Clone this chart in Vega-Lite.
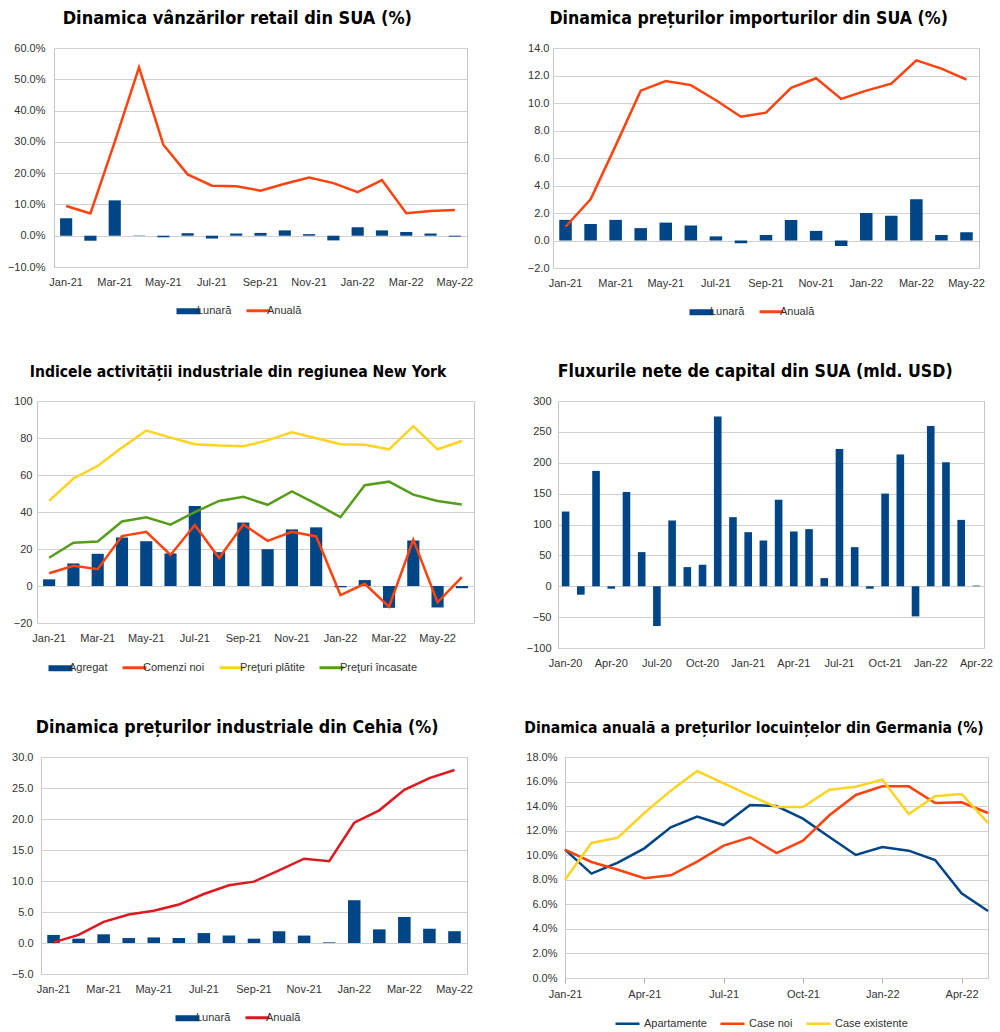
{
  "$schema": "https://vega.github.io/schema/vega-lite/v6.json",
  "background": "white",
  "padding": {"top": 9, "left": 0, "right": 0, "bottom": 0},
  "config": {
    "font": "Liberation Sans",
    "view": {"stroke": "#c6c6c6", "strokeWidth": 1},
    "axis": {"labelFont": "Liberation Sans", "labelFontSize": 11, "labelColor": "#333333", "gridColor": "#d0d0d0", "domain": false, "ticks": false, "tickSize": 0, "title": null},
    "axisX": {"labelAngle": 0, "grid": false, "labelPadding": 9},
    "title": {"font": "DejaVu Sans Condensed, Liberation Sans Narrow, sans-serif", "fontWeight": "bold", "fontSize": 17.7, "color": "#000000", "anchor": "middle", "offset": 14, "frame": "bounds"},
    "legend": {"labelFont": "Liberation Sans", "labelFontSize": 11, "labelColor": "#333333", "title": null, "orient": "none", "direction": "horizontal", "symbolSize": 576, "labelOffset": 3, "columnPadding": 8},
    "line": {"strokeWidth": 2.5},
    "bar": {"color": "#004586"}
  },
  "resolve": {"scale": {"color": "independent"}, "legend": {"color": "independent"}},
  "spacing": 43,
  "vconcat": [
    {
      "spacing": 38,
      "resolve": {"scale": {"color": "independent"}, "legend": {"color": "independent"}},
      "hconcat": [
        {
          "spacing": 0,
          "resolve": {"scale": {"color": "independent"}, "legend": {"color": "independent"}},
          "hconcat": [
            {"width": 1, "height": 1, "view": {"stroke": null}, "data": {"values": []}, "mark": {"type": "point", "opacity": 0}},
            {
              "title": {"text": "Dinamica vânzărilor retail din SUA (%)", "fontSize": 18},
              "width": 413, "height": 219,
              "data": {"values": [
                {"luna": "Jan-21", "lunara": 5.6, "anuala": 9.5},
                {"luna": "Feb-21", "lunara": -1.6, "anuala": 7.1},
                {"luna": "Mar-21", "lunara": 11.3, "anuala": 30.0},
                {"luna": "Apr-21", "lunara": 0.1, "anuala": 53.8},
                {"luna": "May-21", "lunara": -0.5, "anuala": 29.1},
                {"luna": "Jun-21", "lunara": 0.8, "anuala": 19.6},
                {"luna": "Jul-21", "lunara": -0.9, "anuala": 16.0},
                {"luna": "Aug-21", "lunara": 0.7, "anuala": 15.8},
                {"luna": "Sep-21", "lunara": 0.9, "anuala": 14.4},
                {"luna": "Oct-21", "lunara": 1.7, "anuala": 16.6},
                {"luna": "Nov-21", "lunara": 0.5, "anuala": 18.6},
                {"luna": "Dec-21", "lunara": -1.5, "anuala": 16.8},
                {"luna": "Jan-22", "lunara": 2.7, "anuala": 13.9},
                {"luna": "Feb-22", "lunara": 1.7, "anuala": 17.8},
                {"luna": "Mar-22", "lunara": 1.2, "anuala": 7.2},
                {"luna": "Apr-22", "lunara": 0.7, "anuala": 7.9},
                {"luna": "May-22", "lunara": -0.3, "anuala": 8.2}
              ]},
              "encoding": {
                "x": {"field": "luna", "type": "ordinal", "sort": null, "scale": {"paddingInner": 0.5, "paddingOuter": 0.25},
                      "axis": {"values": ["Jan-21", "Mar-21", "May-21", "Jul-21", "Sep-21", "Nov-21", "Jan-22", "Mar-22", "May-22"]}}
              },
              "layer": [
                {"mark": {"type": "bar"},
                 "encoding": {
                   "y": {"field": "lunara", "type": "quantitative", "scale": {"domain": [-10, 60], "nice": false, "zero": false},
                         "axis": {"values": [-10, 0, 10, 20, 30, 40, 50, 60], "tickCount": 30, "labelExpr": "format(datum.value, '.1f') + '%'", "minExtent": 52, "maxExtent": 52, "labelPadding": 9}},
                   "color": {"datum": "Lunară", "scale": {"domain": ["Lunară", "Anuală"], "range": ["#004586", "#ff420e"]},
                             "legend": {"legendX": 129, "legendY": 257,
                                        "encode": {"symbols": {"update": {
                                          "shape": {"signal": "datum.index === 0 ? 'M-1,-0.25H1V0.25H-1Z' : 'M-1,0H1'"},
                                          "fill": {"signal": "datum.index === 0 ? '#004586' : 'transparent'"},
                                          "stroke": {"signal": "datum.index === 0 ? '#004586' : '#ff420e'"},
                                          "strokeWidth": {"signal": "datum.index === 0 ? 0 : 3"},
                                          "opacity": {"value": 1}}}}}}
                 }},
                {"mark": {"type": "line"},
                 "encoding": {"y": {"field": "anuala", "type": "quantitative"}, "color": {"datum": "Anuală"}}}
              ]
            }
          ]
        },
        {
          "title": {"text": "Dinamica prețurilor importurilor din SUA (%)", "fontSize": 17.6},
          "width": 426, "height": 220,
          "data": {"values": [
            {"luna": "Jan-21", "lunara": 1.5, "anuala": 1.0},
            {"luna": "Feb-21", "lunara": 1.2, "anuala": 3.0},
            {"luna": "Mar-21", "lunara": 1.5, "anuala": 6.9},
            {"luna": "Apr-21", "lunara": 0.9, "anuala": 10.9},
            {"luna": "May-21", "lunara": 1.3, "anuala": 11.6},
            {"luna": "Jun-21", "lunara": 1.1, "anuala": 11.3},
            {"luna": "Jul-21", "lunara": 0.3, "anuala": 10.2},
            {"luna": "Aug-21", "lunara": -0.2, "anuala": 9.0},
            {"luna": "Sep-21", "lunara": 0.4, "anuala": 9.3},
            {"luna": "Oct-21", "lunara": 1.5, "anuala": 11.1},
            {"luna": "Nov-21", "lunara": 0.7, "anuala": 11.8},
            {"luna": "Dec-21", "lunara": -0.4, "anuala": 10.3},
            {"luna": "Jan-22", "lunara": 2.0, "anuala": 10.9},
            {"luna": "Feb-22", "lunara": 1.8, "anuala": 11.4},
            {"luna": "Mar-22", "lunara": 3.0, "anuala": 13.1},
            {"luna": "Apr-22", "lunara": 0.4, "anuala": 12.5},
            {"luna": "May-22", "lunara": 0.6, "anuala": 11.7}
          ]},
          "encoding": {
            "x": {"field": "luna", "type": "ordinal", "sort": null, "scale": {"paddingInner": 0.5, "paddingOuter": 0.25},
                  "axis": {"values": ["Jan-21", "Mar-21", "May-21", "Jul-21", "Sep-21", "Nov-21", "Jan-22", "Mar-22", "May-22"]}}
          },
          "layer": [
            {"mark": {"type": "bar"},
             "encoding": {
               "y": {"field": "lunara", "type": "quantitative", "scale": {"domain": [-2, 14], "nice": false, "zero": false},
                     "axis": {"values": [-2, 0, 2, 4, 6, 8, 10, 12, 14], "tickCount": 30, "format": ".1f", "minExtent": 40, "maxExtent": 40, "labelPadding": 4}},
               "color": {"datum": "Lunară", "scale": {"domain": ["Lunară", "Anuală"], "range": ["#004586", "#ff420e"]},
                         "legend": {"legendX": 143, "legendY": 258,
                                    "encode": {"symbols": {"update": {
                                      "shape": {"signal": "datum.index === 0 ? 'M-1,-0.25H1V0.25H-1Z' : 'M-1,0H1'"},
                                      "fill": {"signal": "datum.index === 0 ? '#004586' : 'transparent'"},
                                      "stroke": {"signal": "datum.index === 0 ? '#004586' : '#ff420e'"},
                                      "strokeWidth": {"signal": "datum.index === 0 ? 0 : 3"},
                                      "opacity": {"value": 1}}}}}}
             }},
            {"mark": {"type": "line"},
             "encoding": {"y": {"field": "anuala", "type": "quantitative"}, "color": {"datum": "Anuală"}}}
          ]
        }
      ]
    },
    {
      "spacing": 42,
      "resolve": {"scale": {"color": "independent"}, "legend": {"color": "independent"}},
      "hconcat": [
        {
          "spacing": 0,
          "resolve": {"scale": {"color": "independent"}, "legend": {"color": "independent"}},
          "hconcat": [
            {"width": 1, "height": 1, "view": {"stroke": null}, "data": {"values": []}, "mark": {"type": "point", "opacity": 0}},
            {
              "title": {"text": "Indicele activității industriale din regiunea New York", "fontSize": 15.6},
              "width": 437, "height": 222,
              "data": {"values": [
                {"luna": "Jan-21", "agregat": 3.6, "comenzi": 6.9, "platite": 46.0, "incasate": 15.3},
                {"luna": "Feb-21", "agregat": 12.2, "comenzi": 10.9, "platite": 58.1, "incasate": 23.4},
                {"luna": "Mar-21", "agregat": 17.4, "comenzi": 9.1, "platite": 64.9, "incasate": 24.1},
                {"luna": "Apr-21", "agregat": 26.2, "comenzi": 27.0, "platite": 74.8, "incasate": 34.9},
                {"luna": "May-21", "agregat": 24.2, "comenzi": 29.3, "platite": 84.0, "incasate": 37.2},
                {"luna": "Jun-21", "agregat": 17.6, "comenzi": 16.8, "platite": 80.2, "incasate": 33.2},
                {"luna": "Jul-21", "agregat": 43.3, "comenzi": 33.0, "platite": 76.6, "incasate": 39.9},
                {"luna": "Aug-21", "agregat": 18.3, "comenzi": 15.1, "platite": 75.9, "incasate": 46.0},
                {"luna": "Sep-21", "agregat": 34.3, "comenzi": 33.2, "platite": 75.5, "incasate": 48.2},
                {"luna": "Oct-21", "agregat": 19.9, "comenzi": 24.4, "platite": 78.7, "incasate": 43.9},
                {"luna": "Nov-21", "agregat": 30.6, "comenzi": 29.3, "platite": 83.1, "incasate": 51.1},
                {"luna": "Dec-21", "agregat": 31.7, "comenzi": 26.8, "platite": 79.9, "incasate": 44.4},
                {"luna": "Jan-22", "agregat": -0.7, "comenzi": -4.9, "platite": 76.6, "incasate": 37.2},
                {"luna": "Feb-22", "agregat": 3.2, "comenzi": 1.2, "platite": 76.4, "incasate": 54.5},
                {"luna": "Mar-22", "agregat": -11.8, "comenzi": -11.2, "platite": 73.9, "incasate": 56.4},
                {"luna": "Apr-22", "agregat": 24.6, "comenzi": 25.0, "platite": 86.4, "incasate": 49.4},
                {"luna": "May-22", "agregat": -11.6, "comenzi": -8.8, "platite": 73.9, "incasate": 46.0},
                {"luna": "Jun-22", "agregat": -1.2, "comenzi": 4.8, "platite": 78.4, "incasate": 44.0}
              ]},
              "encoding": {
                "x": {"field": "luna", "type": "ordinal", "sort": null, "scale": {"paddingInner": 0.5, "paddingOuter": 0.25},
                      "axis": {"values": ["Jan-21", "Mar-21", "May-21", "Jul-21", "Sep-21", "Nov-21", "Jan-22", "Mar-22", "May-22"]}}
              },
              "layer": [
                {"mark": {"type": "bar"},
                 "encoding": {
                   "y": {"field": "agregat", "type": "quantitative", "scale": {"domain": [-20, 100], "nice": false, "zero": false},
                         "axis": {"values": [-20, 0, 20, 40, 60, 80, 100], "tickCount": 30, "format": "d", "minExtent": 35, "maxExtent": 35, "labelPadding": 5}},
                   "color": {"datum": "Agregat", "scale": {"domain": ["Agregat", "Comenzi noi", "Preţuri plătite", "Preţuri încasate"], "range": ["#004586", "#ff420e", "#ffd320", "#579d1c"]},
                             "legend": {"legendX": 18, "legendY": 261,
                                        "encode": {"symbols": {"update": {
                                          "shape": {"signal": "datum.index === 0 ? 'M-1,-0.25H1V0.25H-1Z' : 'M-1,0H1'"},
                                          "fill": {"signal": "datum.index === 0 ? '#004586' : 'transparent'"},
                                          "stroke": {"signal": "datum.index === 0 ? '#004586' : datum.index === 1 ? '#ff420e' : datum.index === 2 ? '#ffd320' : '#579d1c'"},
                                          "strokeWidth": {"signal": "datum.index === 0 ? 0 : 3"},
                                          "opacity": {"value": 1}}}}}}
                 }},
                {"mark": {"type": "line"},
                 "encoding": {"y": {"field": "comenzi", "type": "quantitative"}, "color": {"datum": "Comenzi noi"}}},
                {"mark": {"type": "line"},
                 "encoding": {"y": {"field": "platite", "type": "quantitative"}, "color": {"datum": "Preţuri plătite"}}},
                {"mark": {"type": "line"},
                 "encoding": {"y": {"field": "incasate", "type": "quantitative"}, "color": {"datum": "Preţuri încasate"}}}
              ]
            }
          ]
        },
        {
          "title": {"text": "Fluxurile nete de capital din SUA (mld. USD)", "fontSize": 17.6},
          "width": 426, "height": 247,
          "data": {"values": [
            {"luna": "Jan-20", "flux": 121}, {"luna": "Feb-20", "flux": -13.7}, {"luna": "Mar-20", "flux": 186.8},
            {"luna": "Apr-20", "flux": -4}, {"luna": "May-20", "flux": 152.8}, {"luna": "Jun-20", "flux": 55.3},
            {"luna": "Jul-20", "flux": -64.4}, {"luna": "Aug-20", "flux": 106.5}, {"luna": "Sep-20", "flux": 31},
            {"luna": "Oct-20", "flux": 34.8}, {"luna": "Nov-20", "flux": 274.7}, {"luna": "Dec-20", "flux": 111.9},
            {"luna": "Jan-21", "flux": 87.6}, {"luna": "Feb-21", "flux": 74.1}, {"luna": "Mar-21", "flux": 139.9},
            {"luna": "Apr-21", "flux": 88.7}, {"luna": "May-21", "flux": 92.5}, {"luna": "Jun-21", "flux": 13.2},
            {"luna": "Jul-21", "flux": 222.4}, {"luna": "Aug-21", "flux": 63.3}, {"luna": "Sep-21", "flux": -4},
            {"luna": "Oct-21", "flux": 150.1}, {"luna": "Nov-21", "flux": 213.2}, {"luna": "Dec-21", "flux": -48.8},
            {"luna": "Jan-22", "flux": 259.6}, {"luna": "Feb-22", "flux": 200.8}, {"luna": "Mar-22", "flux": 107.5},
            {"luna": "Apr-22", "flux": 1}
          ]},
          "mark": {"type": "bar"},
          "encoding": {
            "x": {"field": "luna", "type": "ordinal", "sort": null, "scale": {"paddingInner": 0.5, "paddingOuter": 0.25},
                  "axis": {"values": ["Jan-20", "Apr-20", "Jul-20", "Oct-20", "Jan-21", "Apr-21", "Jul-21", "Oct-21", "Jan-22", "Apr-22"]}},
            "y": {"field": "flux", "type": "quantitative", "scale": {"domain": [-100, 300], "nice": false, "zero": false},
                  "axis": {"values": [-100, -50, 0, 50, 100, 150, 200, 250, 300], "tickCount": 30, "format": "d", "minExtent": 40, "maxExtent": 40, "labelPadding": 7}}
          }
        }
      ]
    },
    {
      "spacing": 41,
      "resolve": {"scale": {"color": "independent"}, "legend": {"color": "independent"}},
      "hconcat": [
        {
          "spacing": 0,
          "resolve": {"scale": {"color": "independent"}, "legend": {"color": "independent"}},
          "hconcat": [
            {"width": 1, "height": 1, "view": {"stroke": null}, "data": {"values": []}, "mark": {"type": "point", "opacity": 0}},
            {
              "title": {"text": "Dinamica prețurilor industriale din Cehia (%)", "fontSize": 17.7},
              "width": 426, "height": 217,
              "data": {"values": [
                {"luna": "Jan-21", "lunara": 1.3, "anuala": 0.1},
                {"luna": "Feb-21", "lunara": 0.7, "anuala": 1.3},
                {"luna": "Mar-21", "lunara": 1.4, "anuala": 3.4},
                {"luna": "Apr-21", "lunara": 0.8, "anuala": 4.6},
                {"luna": "May-21", "lunara": 0.9, "anuala": 5.2},
                {"luna": "Jun-21", "lunara": 0.8, "anuala": 6.2},
                {"luna": "Jul-21", "lunara": 1.6, "anuala": 7.9},
                {"luna": "Aug-21", "lunara": 1.2, "anuala": 9.3},
                {"luna": "Sep-21", "lunara": 0.7, "anuala": 9.9},
                {"luna": "Oct-21", "lunara": 1.9, "anuala": 11.7},
                {"luna": "Nov-21", "lunara": 1.2, "anuala": 13.6},
                {"luna": "Dec-21", "lunara": 0.1, "anuala": 13.2},
                {"luna": "Jan-22", "lunara": 6.9, "anuala": 19.4},
                {"luna": "Feb-22", "lunara": 2.2, "anuala": 21.4},
                {"luna": "Mar-22", "lunara": 4.2, "anuala": 24.7},
                {"luna": "Apr-22", "lunara": 2.3, "anuala": 26.6},
                {"luna": "May-22", "lunara": 1.9, "anuala": 27.9}
              ]},
              "encoding": {
                "x": {"field": "luna", "type": "ordinal", "sort": null, "scale": {"paddingInner": 0.5, "paddingOuter": 0.25},
                      "axis": {"values": ["Jan-21", "Mar-21", "May-21", "Jul-21", "Sep-21", "Nov-21", "Jan-22", "Mar-22", "May-22"]}}
              },
              "layer": [
                {"mark": {"type": "bar"},
                 "encoding": {
                   "y": {"field": "lunara", "type": "quantitative", "scale": {"domain": [-5, 30], "nice": false, "zero": false},
                         "axis": {"values": [-5, 0, 5, 10, 15, 20, 25, 30], "tickCount": 30, "format": ".1f", "minExtent": 39, "maxExtent": 39, "labelPadding": 8}},
                   "color": {"datum": "Lunară", "scale": {"domain": ["Lunară", "Anuală"], "range": ["#004586", "#e0171f"]},
                             "legend": {"legendX": 141, "legendY": 255,
                                        "encode": {"symbols": {"update": {
                                          "shape": {"signal": "datum.index === 0 ? 'M-1,-0.25H1V0.25H-1Z' : 'M-1,0H1'"},
                                          "fill": {"signal": "datum.index === 0 ? '#004586' : 'transparent'"},
                                          "stroke": {"signal": "datum.index === 0 ? '#004586' : '#e0171f'"},
                                          "strokeWidth": {"signal": "datum.index === 0 ? 0 : 3"},
                                          "opacity": {"value": 1}}}}}}
                 }},
                {"mark": {"type": "line"},
                 "encoding": {"y": {"field": "anuala", "type": "quantitative"}, "color": {"datum": "Anuală"}}}
              ]
            }
          ]
        },
        {
          "title": {"text": "Dinamica anuală a prețurilor locuințelor din Germania (%)", "fontSize": 15.6},
          "width": 423, "height": 221,
          "data": {"values": [
            {"luna": "Jan-21", "apart": 10.45, "noi": 10.45, "exist": 8.0},
            {"luna": "Feb-21", "apart": 8.5, "noi": 9.45, "exist": 11.0},
            {"luna": "Mar-21", "apart": 9.4, "noi": 8.82, "exist": 11.43},
            {"luna": "Apr-21", "apart": 10.56, "noi": 8.12, "exist": 13.44},
            {"luna": "May-21", "apart": 12.27, "noi": 8.36, "exist": 15.26},
            {"luna": "Jun-21", "apart": 13.14, "noi": 9.48, "exist": 16.86},
            {"luna": "Jul-21", "apart": 12.46, "noi": 10.78, "exist": 15.86},
            {"luna": "Aug-21", "apart": 14.09, "noi": 11.46, "exist": 14.85},
            {"luna": "Sep-21", "apart": 14.0, "noi": 10.18, "exist": 13.93},
            {"luna": "Oct-21", "apart": 12.98, "noi": 11.19, "exist": 13.93},
            {"luna": "Nov-21", "apart": 11.49, "noi": 13.25, "exist": 15.34},
            {"luna": "Dec-21", "apart": 10.02, "noi": 14.91, "exist": 15.58},
            {"luna": "Jan-22", "apart": 10.67, "noi": 15.61, "exist": 16.16},
            {"luna": "Feb-22", "apart": 10.37, "noi": 15.61, "exist": 13.36},
            {"luna": "Mar-22", "apart": 9.61, "noi": 14.25, "exist": 14.8},
            {"luna": "Apr-22", "apart": 6.9, "noi": 14.31, "exist": 14.99},
            {"luna": "May-22", "apart": 5.46, "noi": 13.44, "exist": 12.63}
          ]},
          "encoding": {
            "x": {"field": "luna", "type": "ordinal", "sort": null, "scale": {"type": "point", "padding": 0},
                  "axis": {"values": ["Jan-21", "Apr-21", "Jul-21", "Oct-21", "Jan-22", "Apr-22"], "ticks": true, "tickSize": 5, "tickColor": "#b0b0b0", "labelPadding": 5}}
          },
          "layer": [
            {"mark": {"type": "line"},
             "encoding": {
               "y": {"field": "apart", "type": "quantitative", "scale": {"domain": [0, 18], "nice": false},
                     "axis": {"values": [0, 2, 4, 6, 8, 10, 12, 14, 16, 18], "tickCount": 30, "labelExpr": "format(datum.value, '.1f') + '%'", "minExtent": 50, "maxExtent": 50, "labelPadding": 8}},
               "color": {"datum": "Apartamente", "scale": {"domain": ["Apartamente", "Case noi", "Case existente"], "range": ["#004586", "#ff420e", "#ffd320"]},
                         "legend": {"legendX": 49, "legendY": 253, "symbolType": "stroke", "symbolStrokeWidth": 3}}
             }},
            {"mark": {"type": "line"},
             "encoding": {"y": {"field": "noi", "type": "quantitative"}, "color": {"datum": "Case noi"}}},
            {"mark": {"type": "line"},
             "encoding": {"y": {"field": "exist", "type": "quantitative"}, "color": {"datum": "Case existente"}}}
          ]
        }
      ]
    }
  ]
}
